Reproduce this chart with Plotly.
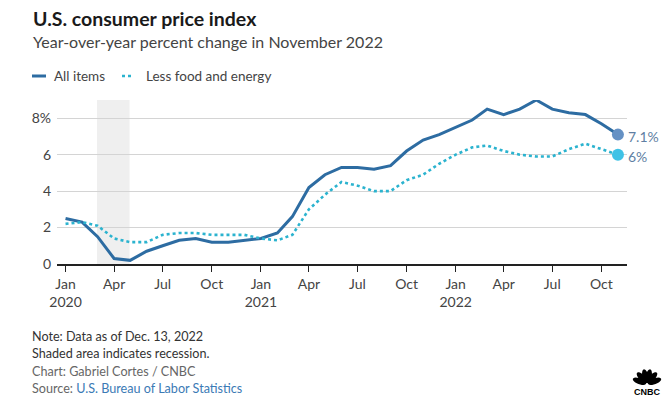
import math
import pandas as pd
import plotly.graph_objects as go

# ---------------- data ----------------
months = pd.date_range("2020-01-01", periods=35, freq="MS")
all_items = [2.5, 2.3, 1.5, 0.3, 0.2, 0.7, 1.0, 1.3, 1.4, 1.2, 1.2, 1.3,
             1.4, 1.7, 2.6, 4.2, 4.9, 5.3, 5.3, 5.2, 5.4, 6.2, 6.8, 7.1,
             7.5, 7.9, 8.5, 8.2, 8.5, 9.0, 8.5, 8.3, 8.2, 7.7, 7.1]
core = [2.2, 2.3, 2.1, 1.4, 1.2, 1.2, 1.6, 1.7, 1.7, 1.6, 1.6, 1.6,
        1.4, 1.3, 1.6, 3.0, 3.8, 4.5, 4.3, 4.0, 4.0, 4.6, 4.9, 5.5,
        6.0, 6.4, 6.5, 6.2, 6.0, 5.9, 5.9, 6.3, 6.6, 6.3, 6.0]
series_names = ["All items", "Less food and energy"]
end_labels = ["7.1%", "6%"]
tick_dates = pd.date_range("2020-01-01", "2022-10-01", freq="QS")
tick_text = ["Jan<br>2020", "Apr", "Jul", "Oct", "Jan<br>2021", "Apr", "Jul", "Oct",
             "Jan<br>2022", "Apr", "Jul", "Oct"]
y_ticks = [0, 2, 4, 6, 8]
y_tick_text = ["0", "2", "4", "6", "8%"]
recession = ("2020-02-29", "2020-04-30")

# ---------------- layout helpers ----------------
W, H = 671, 418
L, R, T, B = 57, 44, 100, 154
PH = H - T - B
PW = W - L - R


def py(p):  # pixel y -> paper y
    return (H - B - p) / PH


def px(p):  # pixel x -> paper x
    return (p - L) / PW


FONT = "Lato, 'Open Sans', sans-serif"
C_ALL = "#2d6ca2"
C_CORE = "#2bb3cf"

fig = go.Figure()
fig.add_trace(go.Scatter(x=months, y=all_items, mode="lines", name=series_names[0],
                         line=dict(color=C_ALL, width=3), showlegend=False))
fig.add_trace(go.Scatter(x=months, y=core, mode="lines", name=series_names[1],
                         line=dict(color=C_CORE, width=2.6, dash="dot"), showlegend=False))
# end markers
fig.add_trace(go.Scatter(x=[months[-1]], y=[all_items[-1]], mode="markers", showlegend=False,
                         marker=dict(color="#6591c4", size=12), cliponaxis=False))
fig.add_trace(go.Scatter(x=[months[-1]], y=[core[-1]], mode="markers", showlegend=False,
                         marker=dict(color="#3fc2e6", size=12), cliponaxis=False))

fig.add_shape(type="rect", xref="x", yref="paper", x0=recession[0], x1=recession[1],
              y0=0, y1=1, fillcolor="#efefef", line=dict(width=0), layer="below")

for val, lab in zip([all_items[-1], core[-1]], end_labels):
    fig.add_annotation(x=months[-1], y=val, text=lab, showarrow=False, xanchor="left",
                       xshift=8, yshift=-2, font=dict(family=FONT, size=14, color="#5f7fa3"))

# legend (drawn as key marks + text)
fig.add_shape(type="line", xref="paper", yref="paper", x0=px(32), x1=px(46), y0=py(76), y1=py(76),
              line=dict(color=C_ALL, width=3))
fig.add_shape(type="line", xref="paper", yref="paper", x0=px(122), x1=px(134), y0=py(76), y1=py(76),
              line=dict(color=C_CORE, width=2.6, dash="dot"))
for txt, xx in zip(series_names, [52, 144]):
    fig.add_annotation(xref="paper", yref="paper", x=px(xx), y=py(76), text=txt, showarrow=False,
                       xanchor="left", yanchor="middle",
                       font=dict(family=FONT, size=13.5, color="#444444"))

# titles
fig.add_annotation(xref="paper", yref="paper", x=px(31), y=py(18), text="<b>U.S. consumer price index</b>",
                   showarrow=False, xanchor="left", yanchor="middle",
                   font=dict(family=FONT, size=19.5, color="#1a1a1a"))
fig.add_annotation(xref="paper", yref="paper", x=px(31), y=py(42),
                   text="Year-over-year percent change in November 2022",
                   showarrow=False, xanchor="left", yanchor="middle",
                   font=dict(family=FONT, size=16, color="#444444"))

# footer
foot = [("Note: Data as of Dec. 13, 2022", 336, "#333333"),
        ("Shaded area indicates recession.", 353, "#333333"),
        ("Chart: Gabriel Cortes / CNBC", 371, "#666666"),
        ("Source: <span style='color:#3b7ab5'>U.S. Bureau of Labor Statistics</span>", 388, "#666666")]
for txt, yy, col in foot:
    fig.add_annotation(xref="paper", yref="paper", x=px(30), y=py(yy), text=txt, showarrow=False,
                       xanchor="left", yanchor="middle", font=dict(family=FONT, size=12.6, color=col))

# CNBC peacock logo (simple approximation: six elongated feathers)
cx, cy = 647, 384
for ang in [160, 130, 102, 78, 50, 20]:
    a = math.radians(ang)
    ecx = cx + 8 * math.cos(a)
    ecy = cy - 8 * math.sin(a)
    pts = []
    for k in range(24):
        t = 2 * math.pi * k / 24
        u, v = 7.0 * math.cos(t), 3.0 * math.sin(t)
        xx = ecx + u * math.cos(a) - v * math.sin(a)
        yy = ecy - (u * math.sin(a) + v * math.cos(a))
        pts.append((px(xx), py(yy)))
    path = "M " + " L ".join(f"{p[0]:.5f},{p[1]:.5f}" for p in pts) + " Z"
    fig.add_shape(type="path", xref="paper", yref="paper", path=path,
                  fillcolor="black", line=dict(width=0))
fig.add_annotation(xref="paper", yref="paper", x=px(647), y=py(392), text="<b>CNBC</b>",
                   showarrow=False, xanchor="center", yanchor="middle",
                   font=dict(family="Liberation Sans, Arial", size=9, color="black"))

fig.update_layout(
    width=W, height=H, margin=dict(l=L, r=R, t=T, b=B),
    paper_bgcolor="white", plot_bgcolor="white",
    font=dict(family=FONT, color="#444444"),
    showlegend=False,
    xaxis=dict(range=["2019-12-16", "2022-11-18"], tickvals=tick_dates, ticktext=tick_text,
               showgrid=False, showline=True, linecolor="#222222", linewidth=1.5,
               ticks="outside", ticklen=6, tickcolor="#222222", tickwidth=1.2,
               tickfont=dict(family=FONT, size=14, color="#444444")),
    yaxis=dict(range=[0, 9], tickvals=y_ticks, ticktext=y_tick_text, showgrid=True,
               gridcolor="#d4d4d4", gridwidth=1, zeroline=False, showline=False,
               ticks="", ticklabelstandoff=5,
               tickfont=dict(family=FONT, size=14, color="#444444")),
)

fig.write_html("out.html")
